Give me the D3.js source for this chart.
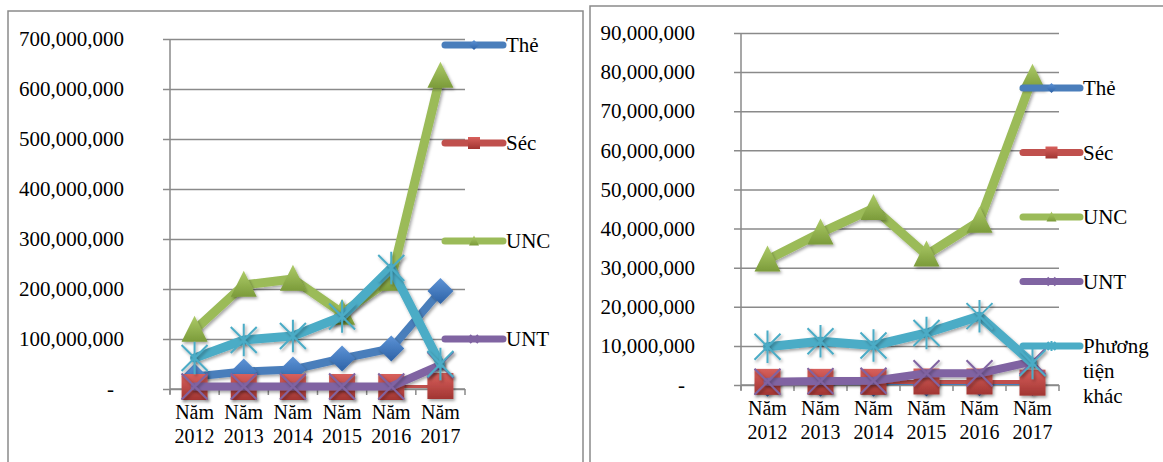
<!DOCTYPE html>
<html>
<head>
<meta charset="utf-8">
<script src="https://cdn.jsdelivr.net/npm/d3@7"></script>
<style>
  body { margin: 0; background: #fff; }
</style>
</head>
<body>
<div id="chart"></div>
<script>
////////////////////////////////////////////////////////////
//////////////////////// Data //////////////////////////////
////////////////////////////////////////////////////////////
var years = ["2012", "2013", "2014", "2015", "2016", "2017"];
var seriesNames = ["Thẻ", "Séc", "UNC", "UNT", "Phương tiện khác"];

// left chart (scale to 700,000,000)
var leftThe = [25e6, 35e6, 39e6, 61e6, 81e6, 196e6];
var leftSec = [4e6, 4e6, 4e6, 4e6, 4e6, 6e6];
var leftUNC = [118e6, 208e6, 220e6, 152e6, 220e6, 626e6];
var leftUNT = [5e6, 5e6, 5e6, 5e6, 5e6, 48e6];
var leftPTK = [62e6, 98e6, 106e6, 145e6, 242e6, 50e6];
var leftTicks = [0, 100e6, 200e6, 300e6, 400e6, 500e6, 600e6, 700e6];

// right chart (scale to 90,000,000)
var rightThe = [0.3e6, 0.3e6, 0.35e6, 0.4e6, 0.45e6, 0.5e6];
var rightSec = [0.8e6, 0.8e6, 0.8e6, 0.9e6, 0.9e6, 0.6e6];
var rightUNC = [32e6, 38.9e6, 45.2e6, 33.3e6, 41.9e6, 78.5e6];
var rightUNT = [0.85e6, 1.0e6, 1.1e6, 3.0e6, 3.0e6, 6.0e6];
var rightPTK = [9.8e6, 11.2e6, 10.1e6, 13.3e6, 17.6e6, 5.6e6];
var rightTicks = [0, 10e6, 20e6, 30e6, 40e6, 50e6, 60e6, 70e6, 80e6, 90e6];

////////////////////////////////////////////////////////////
//////////////////////// Set-Up ////////////////////////////
////////////////////////////////////////////////////////////
var width = 1163, height = 462;
var gridColor = "#8a8a8a";
var fontFam = "'Liberation Serif', Tinos, 'Times New Roman', 'DejaVu Serif', serif";

// line colour, gradient top, gradient bottom, marker shape, line width
var styles = [
  {color: "#4a7ebb", top: "#5d93d6", bottom: "#2d62a6", shape: "diamond", lw: 8},
  {color: "#c0504d", top: "#d8605c", bottom: "#a13532", shape: "square", lw: 7},
  {color: "#9bbb59", top: "#adcb68", bottom: "#7b9b3a", shape: "triangle", lw: 9},
  {color: "#8064a2", top: "#8064a2", bottom: "#8064a2", shape: "x", lw: 8},
  {color: "#4bacc6", top: "#4bacc6", bottom: "#4bacc6", shape: "star", lw: 9}
];

var svg = d3.select("#chart").append("svg")
  .attr("width", width)
  .attr("height", height)
  .attr("font-family", fontFam)
  .style("display", "block");

var defs = svg.append("defs");
var shadow = defs.append("filter").attr("id", "shadow")
  .attr("x", "-50%").attr("y", "-50%").attr("width", "200%").attr("height", "200%");
shadow.append("feDropShadow")
  .attr("dx", 1.5).attr("dy", 2).attr("stdDeviation", 1.5)
  .attr("flood-color", "#000").attr("flood-opacity", 0.35);

styles.forEach(function(s, i) {
  var g = defs.append("linearGradient").attr("id", "grad-" + i)
    .attr("x1", 0).attr("y1", 0).attr("x2", 0).attr("y2", 1);
  g.append("stop").attr("offset", "0%").attr("stop-color", s.top);
  g.append("stop").attr("offset", "100%").attr("stop-color", s.bottom);
});

// frames
svg.append("path")
  .attr("d", "M8,470 L8,11 L583,11 L583,470")
  .attr("fill", "none").attr("stroke", gridColor).attr("stroke-width", 1.5);
svg.append("path")
  .attr("d", "M590,470 L590,6 L1170,6")
  .attr("fill", "none").attr("stroke", gridColor).attr("stroke-width", 1.5);

////////////////////////////////////////////////////////////
/////////////////////// FUNCTIONS //////////////////////////
////////////////////////////////////////////////////////////

// marker path centred on 0,0
function markerPath(shape, r) {
  if (shape === "diamond") {
    return "M0," + (-r) + "L" + r + ",0L0," + r + "L" + (-r) + ",0Z";
  }
  if (shape === "square") {
    return "M" + (-r) + "," + (-r) + "h" + (2 * r) + "v" + (2 * r) + "h" + (-2 * r) + "Z";
  }
  if (shape === "triangle") {
    return "M0," + (-r * 1.1) + "L" + r + "," + (r * 0.9) + "L" + (-r) + "," + (r * 0.9) + "Z";
  }
  if (shape === "x") {
    return "M" + (-r) + "," + (-r) + "L" + r + "," + r + "M" + r + "," + (-r) + "L" + (-r) + "," + r;
  }
  // star: x plus vertical stroke
  return "M" + (-r) + "," + (-r) + "L" + r + "," + r + "M" + r + "," + (-r) + "L" + (-r) + "," + r +
         "M0," + (-r * 1.25) + "L0," + (r * 1.25);
}

function drawMarker(g, i, cx, cy, r) {
  var s = styles[i];
  var filled = (s.shape !== "x" && s.shape !== "star");
  g.append("path")
    .attr("d", markerPath(s.shape, r))
    .attr("transform", "translate(" + cx + "," + cy + ")")
    .attr("fill", filled ? "url(#grad-" + i + ")" : "none")
    .attr("stroke", filled ? "none" : s.color)
    .attr("stroke-width", filled ? 0 : 2)
    .style("filter", "url(#shadow)");
}

function drawPanel(cfg) {
  var g = svg.append("g");
  var x = d3.scaleBand().domain(years).range([cfg.x0, cfg.x1]);
  var y = d3.scaleLinear().domain([0, cfg.max]).range([cfg.y1, cfg.y0]);
  var bw = x.bandwidth();
  var plotW = cfg.x1 - cfg.x0;

  // y axis + gridlines
  var yAxis = d3.axisLeft(y)
    .tickValues(cfg.ticks)
    .tickSizeInner(-plotW)
    .tickSizeOuter(0)
    .tickPadding(cfg.labelPad)
    .tickFormat(function(d) { return d === 0 ? "-" : d3.format(",")(d); });
  var ya = g.append("g").attr("transform", "translate(" + cfg.x0 + ",0)").call(yAxis);
  ya.attr("font-family", fontFam).attr("font-size", 21);
  ya.select(".domain").remove();
  ya.selectAll(".tick line").attr("x1", -7).attr("stroke", gridColor).attr("stroke-width", 1.5);
  ya.selectAll(".tick text")
    .attr("fill", "#000")
    .attr("x", function(d) { return d === 0 ? -cfg.labelPad - cfg.dashPad : -cfg.labelPad; });

  g.append("line")
    .attr("x1", cfg.x0).attr("x2", cfg.x0)
    .attr("y1", cfg.y0).attr("y2", cfg.y1 + 5)
    .attr("stroke", gridColor).attr("stroke-width", 1.5);

  // x axis
  g.append("line")
    .attr("x1", cfg.x0).attr("x2", cfg.x1)
    .attr("y1", cfg.y1).attr("y2", cfg.y1)
    .attr("stroke", gridColor).attr("stroke-width", 1.5);
  d3.range(years.length + 1).forEach(function(k) {
    g.append("line")
      .attr("x1", cfg.x0 + k * bw).attr("x2", cfg.x0 + k * bw)
      .attr("y1", cfg.y1).attr("y2", cfg.y1 + 6)
      .attr("stroke", gridColor).attr("stroke-width", 1.5);
  });
  years.forEach(function(yr) {
    var t = g.append("text")
      .attr("text-anchor", "middle")
      .attr("font-size", 20);
    t.append("tspan").attr("x", x(yr) + bw / 2).attr("y", cfg.y1 + 30).text("Năm");
    t.append("tspan").attr("x", x(yr) + bw / 2).attr("y", cfg.y1 + 54).text(yr);
  });

  // series
  var line = d3.line()
    .x(function(d, i) { return x(years[i]) + bw / 2; })
    .y(function(d) { return y(d); });

  cfg.series.forEach(function(vals, i) {
    var s = styles[i];
    var sg = g.append("g");
    sg.append("path")
      .attr("d", line(vals))
      .attr("fill", "none")
      .attr("stroke", s.color)
      .attr("stroke-width", s.lw)
      .attr("stroke-linejoin", "round")
      .attr("stroke-linecap", "round")
      .style("filter", "url(#shadow)");
    vals.forEach(function(v, k) {
      drawMarker(sg, i, x(years[k]) + bw / 2, y(v), 13);
    });
  });

  // legend
  for (var i = 0; i < cfg.legendCount; i++) {
    var ly = cfg.legendY + i * cfg.legendStep;
    var s = styles[i];
    g.append("line")
      .attr("x1", cfg.lx0).attr("x2", cfg.lx1)
      .attr("y1", ly).attr("y2", ly)
      .attr("stroke", s.color).attr("stroke-width", 7)
      .attr("stroke-linecap", "round");
    var lg = g.append("g");
    if (s.shape === "x" || s.shape === "star") {
      lg.append("path")
        .attr("d", markerPath(s.shape, 4))
        .attr("transform", "translate(" + ((cfg.lx0 + cfg.lx1) / 2) + "," + ly + ")")
        .attr("fill", "none").attr("stroke", s.color).attr("stroke-width", 2);
    } else {
      lg.append("path")
        .attr("d", markerPath(s.shape, s.shape === "square" ? 6 : 5))
        .attr("transform", "translate(" + ((cfg.lx0 + cfg.lx1) / 2) + "," + ly + ")")
        .attr("fill", "url(#grad-" + i + ")");
    }
    var words = (i === 4) ? ["Phương", "tiện", "khác"] : [seriesNames[i]];
    var txt = g.append("text").attr("font-size", 21).attr("fill", "#000");
    words.forEach(function(w, j) {
      txt.append("tspan")
        .attr("x", cfg.lx1 + 3)
        .attr("y", ly + 7 + j * 25)
        .text(w);
    });
  }
}

drawPanel({
  x0: 170, x1: 465, y0: 39, y1: 389, max: 700e6, ticks: leftTicks,
  labelPad: 46, dashPad: 10,
  series: [leftThe, leftSec, leftUNC, leftUNT, leftPTK],
  legendCount: 4, legendY: 45, legendStep: 98, lx0: 445, lx1: 503
});

drawPanel({
  x0: 741, x1: 1059, y0: 33, y1: 385, max: 90e6, ticks: rightTicks,
  labelPad: 46, dashPad: 10,
  series: [rightThe, rightSec, rightUNC, rightUNT, rightPTK],
  legendCount: 5, legendY: 88, legendStep: 64.5, lx0: 1023, lx1: 1080
});
</script>
</body>
</html>
